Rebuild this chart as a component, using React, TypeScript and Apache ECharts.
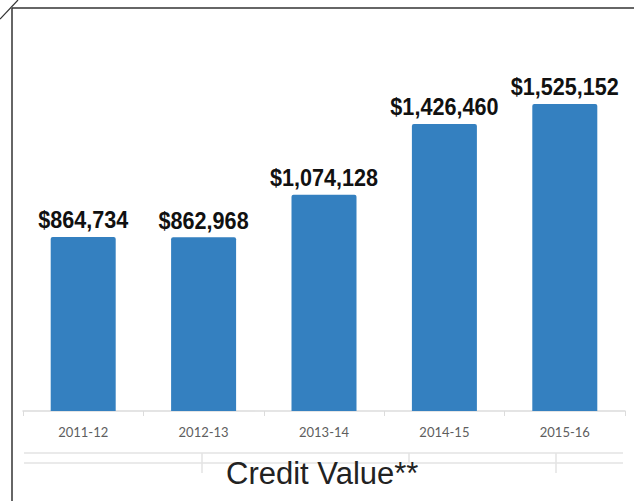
import React, { useEffect, useRef } from "react";
import * as echarts from "echarts";

const categories = ["2011-12", "2012-13", "2013-14", "2014-15", "2015-16"];
const creditValues = [864734, 862968, 1074128, 1426460, 1525152];
const chartTitle = "Credit Value**";

const fmt = (v: number) => "$" + v.toLocaleString("en-US");

export default function App() {
  const ref = useRef<HTMLDivElement>(null);
  useEffect(() => {
    if (!ref.current) return;
    const chart = echarts.init(ref.current, null, { renderer: "svg" });
    const lineStyle = { stroke: "#e3e3e3", lineWidth: 1.5 };
    chart.setOption({
      animation: false,
      backgroundColor: "#ffffff",
      title: {
        text: chartTitle,
        left: 221,
        top: 453,
        textStyle: {
          fontFamily: "'Liberation Sans', Arial, sans-serif",
          fontSize: 31,
          fontWeight: "normal",
          color: "#222222",
        },
      },
      grid: { left: 23, right: 9, top: 89, bottom: 90, containLabel: false },
      xAxis: {
        type: "category",
        data: categories,
        axisLine: { lineStyle: { color: "#dcdcdc", width: 1.5 } },
        axisTick: { show: true, length: 5, lineStyle: { color: "#dcdcdc" } },
        axisLabel: {
          margin: 14,
          fontFamily: "Lato, 'Open Sans', sans-serif",
          fontSize: 13,
          color: "#5e5e5e",
        },
      },
      yAxis: {
        type: "value",
        min: 0,
        max: 1600000,
        show: false,
        splitLine: { show: false },
      },
      series: [
        {
          type: "bar",
          data: creditValues,
          barWidth: 65,
          itemStyle: { color: "#3480c0", borderRadius: [2, 2, 0, 0] },
        },
        {
          type: "custom",
          data: creditValues.map((v, i) => [i, v]),
          encode: { x: 0, y: 1 },
          z: 5,
          renderItem: (_params: any, api: any) => {
            const pt = api.coord([api.value(0), api.value(1)]);
            return {
              type: "text",
              x: pt[0],
              y: pt[1] - 5,
              scaleX: 0.9,
              style: {
                x: 0,
                y: 0,
                text: fmt(api.value(1)),
                textAlign: "center",
                textVerticalAlign: "bottom",
                fontFamily: "'Liberation Sans', Arial, sans-serif",
                fontWeight: "bold",
                fontSize: 24,
                fill: "#111111",
              },
            };
          },
        },
      ],
      graphic: [
        { type: "line", shape: { x1: 12, y1: 8, x2: 634, y2: 8 }, style: { stroke: "#333", lineWidth: 1.5 } },
        { type: "line", shape: { x1: 12, y1: 8, x2: 12, y2: 501 }, style: { stroke: "#333", lineWidth: 1.5 } },
        { type: "line", shape: { x1: 0, y1: 19, x2: 18, y2: 0 }, style: { stroke: "#333", lineWidth: 1.2 } },
        { type: "line", shape: { x1: 24, y1: 453, x2: 623, y2: 453 }, style: lineStyle },
        { type: "line", shape: { x1: 24, y1: 463, x2: 623, y2: 463 }, style: lineStyle },
        { type: "line", shape: { x1: 202, y1: 453, x2: 202, y2: 473 }, style: lineStyle },
        { type: "line", shape: { x1: 409, y1: 453, x2: 409, y2: 463 }, style: lineStyle },
        { type: "line", shape: { x1: 556, y1: 453, x2: 556, y2: 473 }, style: lineStyle },
      ],
    });
    return () => chart.dispose();
  }, []);
  return (
    <div
      ref={ref}
      style={{ position: "fixed", left: 0, top: 0, width: 634, height: 501 }}
    />
  );
}
